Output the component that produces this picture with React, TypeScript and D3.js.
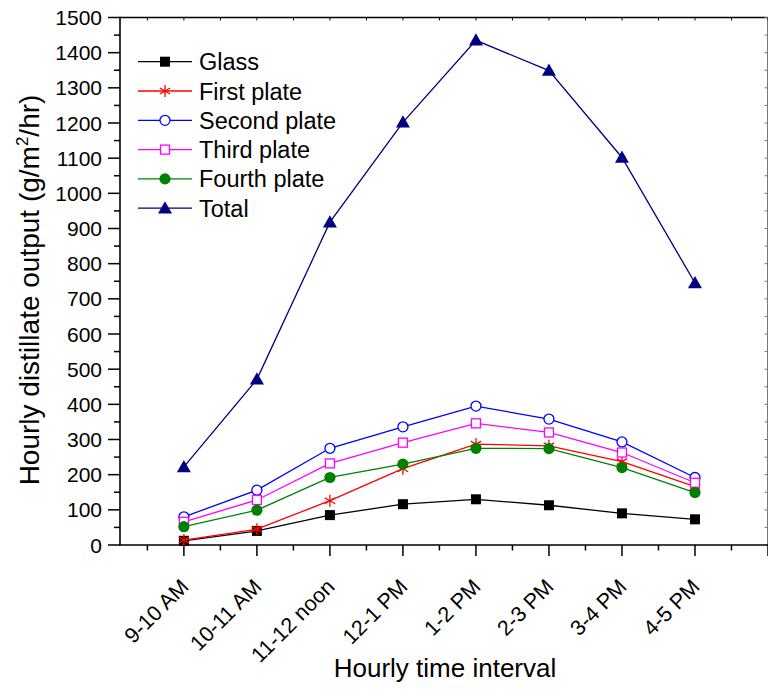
import React from 'react';
import * as d3 from 'd3';

const categories = ['9-10 AM', '10-11 AM', '11-12 noon', '12-1 PM', '1-2 PM', '2-3 PM', '3-4 PM', '4-5 PM'];
const glass = [12, 40, 85, 116, 130, 113, 90, 73];
const firstPlate = [14, 45, 126, 217, 287, 282, 237, 166];
const secondPlate = [80, 156, 275, 336, 395, 358, 293, 192];
const thirdPlate = [66, 128, 232, 291, 346, 320, 263, 177];
const fourthPlate = [52, 99, 192, 230, 275, 274, 220, 149];
const total = [222, 471, 918, 1202, 1435, 1349, 1102, 745];
const yTicks = d3.range(0, 1501, 100);

type Marker = 'square' | 'star' | 'circleOpen' | 'squareOpen' | 'circle' | 'triangle';

const series: { name: string; values: number[]; color: string; marker: Marker }[] = [
  { name: 'Glass', values: glass, color: '#000000', marker: 'square' },
  { name: 'First plate', values: firstPlate, color: '#ff0000', marker: 'star' },
  { name: 'Second plate', values: secondPlate, color: '#0000ff', marker: 'circleOpen' },
  { name: 'Third plate', values: thirdPlate, color: '#ff00ff', marker: 'squareOpen' },
  { name: 'Fourth plate', values: fourthPlate, color: '#008000', marker: 'circle' },
  { name: 'Total', values: total, color: '#000080', marker: 'triangle' },
];

const W = 768;
const H = 691;
const left = 120;
const right = 767.5;
const top = 17.5;
const bottom = 545;
const font = "Arial, 'Liberation Sans', sans-serif";

const x = d3.scaleLinear().domain([-0.875, 8]).range([left, 768]);
const y = d3.scaleLinear().domain([0, 1500]).range([bottom, top]);

function MarkerShape({ type, color, cx, cy }: { type: Marker; color: string; cx: number; cy: number }) {
  switch (type) {
    case 'square':
      return <rect x={cx - 5} y={cy - 5} width={10} height={10} fill={color} />;
    case 'squareOpen':
      return <rect x={cx - 4.5} y={cy - 4.5} width={9} height={9} fill="#fff" stroke={color} strokeWidth={1.3} />;
    case 'circle':
      return <circle cx={cx} cy={cy} r={5.6} fill={color} />;
    case 'circleOpen':
      return <circle cx={cx} cy={cy} r={5} fill="#fff" stroke={color} strokeWidth={1.3} />;
    case 'triangle': {
      const s = 7;
      return <path d={`M${cx},${cy - s}L${cx + s},${cy + s * 0.75}L${cx - s},${cy + s * 0.75}Z`} fill={color} />;
    }
    case 'star': {
      const r = 6;
      const d = [90, 30, 150]
        .map(a => {
          const dx = r * Math.cos((a * Math.PI) / 180);
          const dy = r * Math.sin((a * Math.PI) / 180);
          return `M${cx - dx},${cy - dy}L${cx + dx},${cy + dy}`;
        })
        .join('');
      return <path d={d} fill="none" stroke={color} strokeWidth={1.3} />;
    }
  }
  return null;
}

export default function App() {
  const line = d3
    .line<number>()
    .x((_, i) => x(i))
    .y(d => y(d));

  const majorX = d3.range(0, 9);
  const minorX = d3.range(-0.5, 8, 1);
  const minorY = d3.range(50, 1500, 100);

  return (
    <div style={{ position: 'absolute', left: 0, top: 0 }}>
      <svg width={W} height={H} viewBox={`0 0 ${W} ${H}`} style={{ display: 'block', background: '#fff' }} fontFamily={font}>
        {/* frame: top and right */}
        <line x1={left} x2={right} y1={top} y2={top} stroke="#000" strokeWidth={1.5} />
        <line x1={right} x2={right} y1={top} y2={bottom} stroke="#777" strokeWidth={1} />
        {majorX.concat(minorX).map(t => (
          <line key={`tt${t}`} x1={x(t)} x2={x(t)} y1={top} y2={top + 3} stroke="#000" strokeWidth={1} />
        ))}
        {yTicks.concat(minorY).map(t => (
          <line key={`rt${t}`} x1={right - 3} x2={right} y1={y(t)} y2={y(t)} stroke="#777" strokeWidth={1} />
        ))}

        {/* y axis */}
        <line x1={left} x2={left} y1={top - 0.75} y2={bottom} stroke="#000" strokeWidth={1.6} />
        {yTicks.map(t => (
          <g key={`y${t}`}>
            <line x1={left - 12} x2={left} y1={y(t)} y2={y(t)} stroke="#000" strokeWidth={1.5} />
            <text x={left - 18} y={y(t) + 7.5} textAnchor="end" fontSize={21} fill="#000">
              {t}
            </text>
          </g>
        ))}
        {minorY.map(t => (
          <line key={`ym${t}`} x1={left - 6} x2={left} y1={y(t)} y2={y(t)} stroke="#000" strokeWidth={1.5} />
        ))}
        <text
          transform={`translate(39, 290) rotate(-90)`}
          textAnchor="middle"
          fontSize={28}
          fill="#000"
        >
          Hourly distillate output (g/m<tspan dy={-11} fontSize={17}>2</tspan>
          <tspan dy={11}>/hr)</tspan>
        </text>

        {/* x axis */}
        <line x1={left - 0.8} x2={768} y1={bottom} y2={bottom} stroke="#000" strokeWidth={1.6} />
        {majorX.map(t => (
          <line key={`x${t}`} x1={x(t)} x2={x(t)} y1={bottom} y2={bottom + 11} stroke="#000" strokeWidth={1.5} />
        ))}
        {minorX.map(t => (
          <line key={`xm${t}`} x1={x(t)} x2={x(t)} y1={bottom} y2={bottom + 5.5} stroke="#000" strokeWidth={1.5} />
        ))}
        {categories.map((c, i) => (
          <text
            key={c}
            transform={`translate(${x(i) + 6}, 588) rotate(-45)`}
            textAnchor="end"
            fontSize={21.5}
            fill="#000"
          >
            {c}
          </text>
        ))}
        <text x={445} y={677} textAnchor="middle" fontSize={26} fill="#000">
          Hourly time interval
        </text>

        {/* series */}
        {series.map(s => (
          <g key={s.name}>
            <path d={line(s.values) || ''} fill="none" stroke={s.color} strokeWidth={1.3} />
            {s.values.map((v, i) => (
              <MarkerShape key={i} type={s.marker} color={s.color} cx={x(i)} cy={y(v)} />
            ))}
          </g>
        ))}

        {/* legend */}
        {series.map((s, i) => {
          const ly = 61.7 + i * 29.3;
          return (
            <g key={`lg${s.name}`}>
              <line x1={138} x2={192} y1={ly} y2={ly} stroke={s.color} strokeWidth={1.3} />
              <MarkerShape type={s.marker} color={s.color} cx={165} cy={ly} />
              <text x={199} y={ly + 8.5} fontSize={23.5} fill="#000">
                {s.name}
              </text>
            </g>
          );
        })}
      </svg>
    </div>
  );
}
